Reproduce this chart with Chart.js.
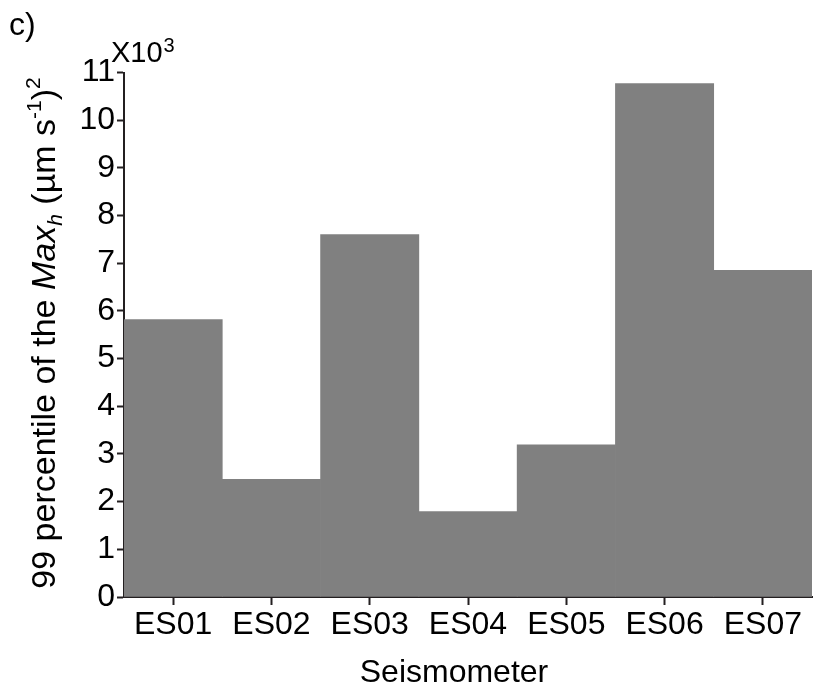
<!DOCTYPE html>
<html>
<head>
<meta charset="utf-8">
<title>Seismometer</title>
<script src="https://cdn.jsdelivr.net/npm/chart.js@4"></script>
<style>
    html, body { margin: 0; padding: 0; background: #fff; }
    #box { width: 817px; height: 693px; }
</style>
</head>
<body>
<div id="box"><canvas id="myChart"></canvas></div>
<script>
const STATIONS = ['ES01', 'ES02', 'ES03', 'ES04', 'ES05', 'ES06', 'ES07'];
// 99 percentile of Max_h, in units of 10^3 (um/s)^2
const P99_MAXH = [5.82, 2.47, 7.6, 1.79, 3.19, 10.77, 6.85];
const Y_TICKS = [0, 1, 2, 3, 4, 5, 6, 7, 8, 9, 10, 11];

const FONT = 'Liberation Sans, Arial, Helvetica, sans-serif';
const INK = '#231f20';

// extra text the axes can't do on their own: panel tag, exponent, rich y title
const annotations = {
    id: 'annotations',
    afterDraw(chart) {
        const ctx = chart.ctx;
        ctx.save();
        ctx.fillStyle = '#000';
        ctx.textBaseline = 'alphabetic';
        ctx.textAlign = 'left';

        ctx.font = `32px ${FONT}`;
        ctx.fillText('c)', 9, 35);

        ctx.font = `29px ${FONT}`;
        ctx.fillText('X10', 111, 62);
        let w = ctx.measureText('X10').width;
        ctx.font = `20px ${FONT}`;
        ctx.fillText('3', 111 + w + 1, 52);

        ctx.font = `32px ${FONT}`;
        ctx.textAlign = 'center';
        ctx.fillText('Seismometer', 454, 682);

        // rotated y title, written segment by segment
        const parts = [
            { t: '99 percentile of the ', f: `34px ${FONT}`, dy: 0 },
            { t: 'Max', f: `italic 34px ${FONT}`, dy: 0 },
            { t: 'h', f: `italic 21px ${FONT}`, dy: 7 },
            { t: ' (\u00b5m s', f: `34px ${FONT}`, dy: 0 },
            { t: '-1', f: `21px ${FONT}`, dy: -14 },
            { t: ')', f: `34px ${FONT}`, dy: 0 },
            { t: '2', f: `21px ${FONT}`, dy: -15 }
        ];
        let total = 0;
        parts.forEach(p => { ctx.font = p.f; total += ctx.measureText(p.t).width; });
        ctx.translate(55, 333);
        ctx.rotate(-Math.PI / 2);
        ctx.textAlign = 'left';
        let x = -total / 2;
        parts.forEach(p => {
            ctx.font = p.f;
            ctx.fillText(p.t, x, p.dy);
            x += ctx.measureText(p.t).width;
        });
        ctx.restore();
    }
};

const data = {
    labels: STATIONS,
    datasets: [
        {
            label: '99 percentile',
            data: P99_MAXH,
            backgroundColor: '#808080',
            borderWidth: 0,
            barPercentage: 1,
            categoryPercentage: 1
        }
    ]
};

const config = {
    type: 'bar',
    data: data,
    options: {
        responsive: false,
        animation: false,
        layout: {
            padding: { top: 72.6, right: 5, left: 0, bottom: 0 }
        },
        plugins: {
            legend: { display: false },
            tooltip: { enabled: false }
        },
        scales: {
            x: {
                afterFit: (axis) => { axis.height = 96; },
                border: { display: true, color: INK, width: 2 },
                grid: {
                    offset: false,
                    drawOnChartArea: false,
                    drawTicks: true,
                    tickLength: 8,
                    tickWidth: 2,
                    tickColor: INK
                },
                ticks: {
                    color: '#000',
                    padding: 1,
                    maxRotation: 0,
                    font: { family: FONT, size: 32 }
                }
            },
            y: {
                min: 0,
                max: 11,
                afterFit: (axis) => { axis.width = 124; },
                afterBuildTicks: (axis) => { axis.ticks = Y_TICKS.map(v => ({ value: v })); },
                border: { display: true, color: INK, width: 2 },
                grid: {
                    drawOnChartArea: false,
                    drawTicks: true,
                    tickLength: 7,
                    tickWidth: 2,
                    tickColor: INK
                },
                ticks: {
                    color: '#000',
                    padding: 2,
                    font: { family: FONT, size: 32 }
                }
            }
        }
    },
    plugins: [annotations]
};

const canvas = document.getElementById('myChart');
canvas.width = 817;
canvas.height = 693;
const chartP99 = new Chart(canvas.getContext('2d'), config);
</script>
</body>
</html>
